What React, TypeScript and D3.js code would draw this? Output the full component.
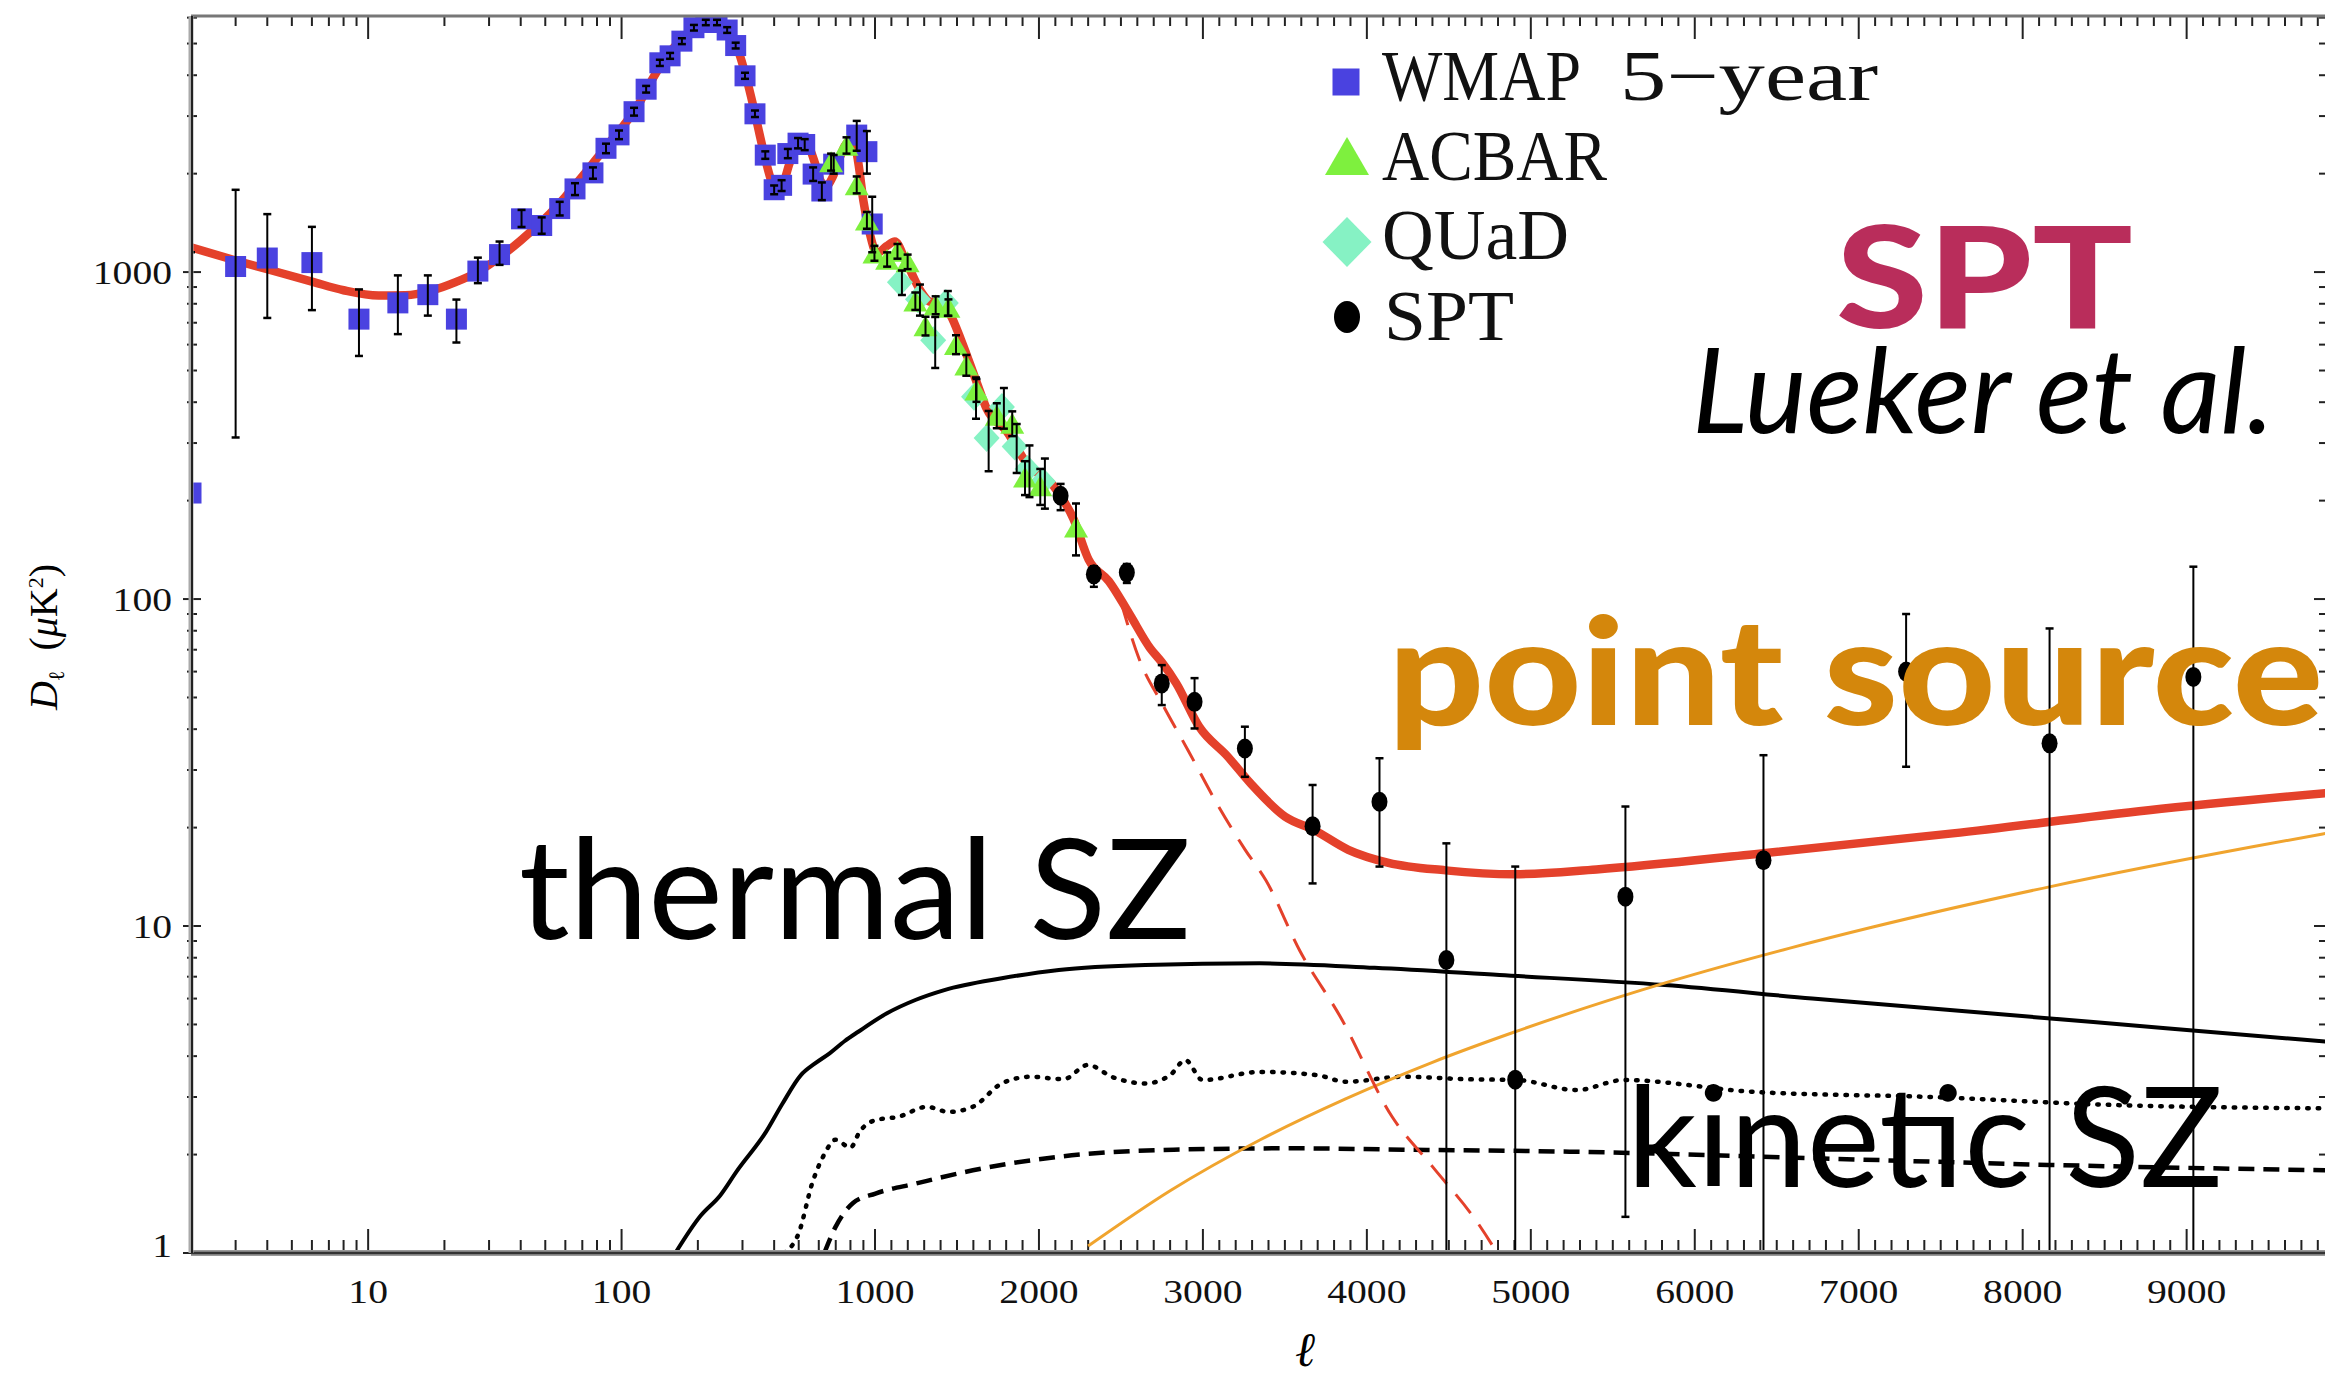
import React from "react";
import * as d3 from "d3";

const W = 2325;
const H = 1384;

// ---------------- data ----------------
// WMAP 5-year binned: [ell, D, low, high]
const wmapPoints: number[][] = [
  [2, 211, 0.5, 1150],
  [3, 1040, 312, 1785],
  [4, 1104, 724, 1504],
  [6, 1069, 765, 1375],
  [9.2, 718, 554, 885],
  [13.1, 805, 646, 977],
  [17.2, 853, 736, 977],
  [22.3, 718, 609, 824],
  [27.1, 1007, 925, 1107],
  [33, 1131, 1052, 1240],
  [40.3, 1455, 1374, 1549],
  [48.4, 1388, 1310, 1470],
  [57, 1564, 1490, 1640],
  [65.5, 1796, 1720, 1870],
  [77.1, 2011, 1930, 2090],
  [86.8, 2391, 2310, 2470],
  [97.7, 2628, 2550, 2710],
  [112, 3094, 3010, 3180],
  [125, 3625, 3540, 3710],
  [141.6, 4366, 4270, 4460],
  [155.4, 4585, 4490, 4680],
  [173, 5085, 4980, 5190],
  [193, 5590, 5480, 5700],
  [215, 5800, 5690, 5910],
  [238, 5800, 5690, 5910],
  [261, 5500, 5390, 5610],
  [282, 4930, 4830, 5030],
  [307, 3983, 3900, 4070],
  [336, 3048, 2980, 3120],
  [369, 2279, 2220, 2340],
  [400, 1786, 1730, 1840],
  [428, 1842, 1770, 1910],
  [453, 2304, 2230, 2380],
  [497, 2479, 2390, 2570],
  [528, 2456, 2360, 2550],
  [570, 1994, 1900, 2090],
  [617, 1770, 1660, 1880],
  [687, 2138, 2000, 2280],
  [847, 2624, 2350, 2900],
  [929, 2335, 2000, 2700],
  [975, 1403, 1150, 1700],
];

// ACBAR: [ell, D, err]
const acbarPoints: number[][] = [
  [671, 2173, 130],
  [772, 2443, 140],
  [847, 1851, 110],
  [929, 1442, 85],
  [995, 1143, 60],
  [1074, 1094, 55],
  [1137, 1159, 60],
  [1199, 1076, 55],
  [1246, 816, 50],
  [1308, 685, 45],
  [1370, 793, 50],
  [1448, 780, 45],
  [1494, 601, 40],
  [1557, 520, 38],
  [1619, 436, 35],
  [1743, 365, 32],
  [1837, 345, 30],
  [1915, 236, 28],
  [2008, 222, 28],
  [2226, 166, 30],
];

// QUaD: [ell, D, err]
const quadPoints: number[][] = [
  [1152, 931, 80],
  [1262, 826, 90],
  [1355, 619, 110],
  [1432, 805, 70],
  [1604, 416, 60],
  [1681, 311, 65],
  [1774, 387, 55],
  [1852, 293, 50],
  [1930, 250, 45],
  [2024, 229, 40],
];

// SPT: [ell, D, low, high]
const sptPoints: number[][] = [
  [2132, 207, 187, 225],
  [2335, 119, 109, 126],
  [2536, 120.5, 112, 128],
  [2749, 55.2, 47.4, 62.8],
  [2949, 48.5, 40.2, 57.3],
  [3256, 34.9, 28.6, 40.7],
  [3669, 20.2, 13.5, 27],
  [4077, 24, 15.2, 32.6],
  [4485, 7.87, 0.3, 17.9],
  [4905, 3.39, 0.3, 15.2],
  [5577, 12.3, 1.29, 23.2],
  [6419, 15.9, 0.3, 33.3],
  [7289, 60, 30.7, 90],
  [8164, 36.2, 0.3, 81.3],
  [9041, 57.8, 0.3, 125.6],
];

// best-fit total model (red solid)
const totalModel: number[][] = [
  [2, 1190], [3, 1085], [4, 1020], [6, 935], [8, 880], [11, 848], [14, 850],
  [18, 880], [22, 930], [27, 1000], [32, 1090], [40, 1250], [50, 1460],
  [60, 1700], [70, 1960], [80, 2230], [90, 2500], [100, 2760], [115, 3200],
  [130, 3800], [150, 4550], [170, 5100], [190, 5500], [210, 5720], [230, 5760],
  [250, 5600], [270, 5250], [290, 4700], [310, 3950], [330, 3250], [350, 2650],
  [370, 2200], [390, 1900], [410, 1780], [430, 1830], [460, 2150], [490, 2420],
  [520, 2480], [550, 2400], [580, 2150], [610, 1900], [640, 1830], [680, 1950],
  [720, 2200], [760, 2430], [800, 2540], [830, 2480], [860, 2150], [900, 1650],
  [950, 1330], [1012, 1143], [1070, 1200], [1121, 1240], [1183, 1096],
  [1277, 878], [1340, 810], [1401, 805], [1460, 740], [1525, 620], [1619, 462],
  [1681, 382], [1805, 325], [1930, 258], [2085, 223], [2210, 176], [2303, 132],
  [2426, 113.5], [2552, 90], [2676, 71], [2750, 64], [2837, 55.3], [2977, 40.7],
  [3151, 33], [3291, 27.3], [3502, 21.6], [3675, 19.7], [3887, 17.1],
  [4132, 15.6], [4480, 14.8], [4900, 14.4], [5400, 14.9], [6418, 16.7],
  [7573, 19.2], [8767, 22.6], [9850, 25.5],
];

// primary (lensed) CMB only (red dashed)
const primaryModel: number[][] = [
  [2500, 98], [2609, 66], [2760, 47], [2909, 34.5], [3100, 23], [3258, 17.1],
  [3384, 13.8], [3591, 8.4], [3838, 5.28], [4154, 2.61], [4399, 1.84],
  [4679, 1.23], [4850, 0.9],
];

// Poisson point sources (orange)
const pointSourceModel: number[][] = [
  [2300, 1.05], [2800, 1.55], [3350, 2.22], [3870, 2.96], [4400, 3.83],
  [4900, 4.74], [5850, 6.77], [6580, 8.56], [7080, 9.91], [8170, 13.2],
  [9410, 17.5], [9850, 19.2],
];

// thermal SZ template (black solid)
const tszModel: number[][] = [
  [163, 1.0], [205, 1.3], [245, 1.5], [285, 1.78], [372, 2.35], [430, 2.85],
  [510, 3.5], [580, 3.8], [662, 4.08], [760, 4.45], [859, 4.75], [1073, 5.41],
  [1250, 5.95], [1423, 6.37], [1773, 6.92], [2121, 7.34], [2648, 7.6],
  [3346, 7.69], [4047, 7.45], [4809, 7.08], [5817, 6.6], [6716, 6.0],
  [7795, 5.41], [8874, 4.87], [9850, 4.43],
];

// kinetic SZ model A (dotted)
const kszDotted: number[][] = [
  [437, 1.0], [500, 1.15], [566, 1.64], [630, 2.0], [698, 2.22], [800, 2.1],
  [870, 2.35], [1003, 2.55], [1143, 2.61], [1317, 2.8], [1450, 2.7],
  [1597, 2.8], [1773, 3.3], [1948, 3.46], [2150, 3.4], [2298, 3.76],
  [2450, 3.45], [2648, 3.3], [2800, 3.5], [2893, 3.89], [2998, 3.38],
  [3346, 3.58], [3697, 3.5], [3870, 3.34], [4222, 3.46], [4600, 3.4],
  [4918, 3.38], [5278, 3.15], [5565, 3.38], [6357, 3.11], [7435, 3.0],
  [8513, 2.84], [9850, 2.77],
];

// kinetic SZ model B (dashed)
const kszDashed: number[][] = [
  [631, 1.0], [698, 1.2], [817, 1.42], [1003, 1.52], [1248, 1.63],
  [1597, 1.79], [2121, 1.97], [2822, 2.07], [3523, 2.09], [4222, 2.07],
  [5278, 2.04], [6716, 1.95], [8155, 1.86], [9850, 1.79],
];

const xMajorTicks = [10, 100, 1000, 2000, 3000, 4000, 5000, 6000, 7000, 8000, 9000];
const xTickLabels = ["10", "100", "1000", "2000", "3000", "4000", "5000", "6000", "7000", "8000", "9000"];
const yMajorTicks = [1, 10, 100, 1000];
const yTickLabels = ["1", "10", "100", "1000"];

const legendLabels = ["ACBAR", "QUaD", "SPT"];

// ---------------- scales ----------------
const L = 191, R = 2326, T = 16, B = 1253;
const xLog = d3.scaleLog().domain([2, 1000]).range([L, 875]);
const xLin = d3.scaleLinear().domain([1000, 9850]).range([875, R]);
const xs = (l: number) => (l <= 1000 ? xLog(l) : xLin(l));
const ys = d3.scaleLog().domain([1, 6070]).range([B, T]);

const xMinor: number[] = [];
[1, 10, 100].forEach((dec) => {
  for (let k = 2; k <= 9; k++) {
    const v = k * dec;
    if (v > 2 && !xMajorTicks.includes(v)) xMinor.push(v);
  }
});
for (let v = 1100; v < 9850; v += 100) if (v % 1000 !== 0) xMinor.push(v);

const yMinor: number[] = [];
[1, 10, 100, 1000].forEach((dec) => {
  for (let k = 2; k <= 9; k++) {
    const v = k * dec;
    if (v < 6070) yMinor.push(v);
  }
});

const RED = "#e4412b";
const BLUE = "#4a42e0";
const GREEN = "#7ef03e";
const AQUA = "#86f2c4";
const ORANGE = "#f0a42e";

const line = d3
  .line<number[]>()
  .x((d) => xs(d[0]))
  .y((d) => ys(d[1]))
  .curve(d3.curveMonotoneX);

function ErrBar({ x, y1, y2, cap = 8 }: { x: number; y1: number; y2: number; cap?: number }) {
  return (
    <g stroke="#000" strokeWidth={2}>
      <line x1={x} x2={x} y1={y1} y2={y2} />
      <line x1={x - cap / 2} x2={x + cap / 2} y1={y1} y2={y1} strokeWidth={2.5} />
      <line x1={x - cap / 2} x2={x + cap / 2} y1={y2} y2={y2} strokeWidth={2.5} />
    </g>
  );
}

const triPath = (cx: number, cy: number, w: number, h: number) =>
  `M${cx},${cy - h / 2}L${cx + w / 2},${cy + h / 2}L${cx - w / 2},${cy + h / 2}Z`;
const diaPath = (cx: number, cy: number, w: number, h: number) =>
  `M${cx},${cy - h / 2}L${cx + w / 2},${cy}L${cx},${cy + h / 2}L${cx - w / 2},${cy}Z`;

export default function App() {
  const serif = "Liberation Serif, DejaVu Serif, serif";
  const sans = "Lato, Open Sans, DejaVu Sans, sans-serif";
  return (
    <svg
      width={W}
      height={H}
      viewBox={`0 0 ${W} ${H}`}
      style={{ position: "absolute", left: 0, top: 0, background: "#fff", display: "block" }}
    >
      <defs>
        <clipPath id="plotArea">
          <rect x={L} y={T} width={R - L} height={B - T} />
        </clipPath>
      </defs>
      <rect x={0} y={0} width={W} height={H} fill="#fff" />

      {/* ticks */}
      <g stroke="#222" strokeWidth={2}>
        {xMajorTicks.map((v) => (
          <g key={"xm" + v}>
            <line x1={xs(v)} x2={xs(v)} y1={B} y2={B - 24} />
            <line x1={xs(v)} x2={xs(v)} y1={T} y2={T + 23} />
          </g>
        ))}
        {xMinor.map((v) => (
          <g key={"xn" + v}>
            <line x1={xs(v)} x2={xs(v)} y1={B} y2={B - 13} />
            <line x1={xs(v)} x2={xs(v)} y1={T} y2={T + 10} />
          </g>
        ))}
        {yMajorTicks.map((v) => (
          <g key={"ym" + v}>
            <line x1={L - 8} x2={L + 10} y1={ys(v)} y2={ys(v)} />
            <line x1={R - 12} x2={R} y1={ys(v)} y2={ys(v)} />
          </g>
        ))}
        {yMinor.map((v) => (
          <g key={"yn" + v}>
            <line x1={L - 4} x2={L + 6} y1={ys(v)} y2={ys(v)} />
            <line x1={R - 7} x2={R} y1={ys(v)} y2={ys(v)} />
          </g>
        ))}
      </g>

      {/* tick labels */}
      <g fontFamily={serif} fontSize={34} fill="#111">
        {xMajorTicks.map((v, i) => (
          <text
            key={"xl" + v}
            x={xs(v)}
            y={1303}
            textAnchor="middle"
            textLength={xTickLabels[i].length * 19.8}
            lengthAdjust="spacingAndGlyphs"
          >
            {xTickLabels[i]}
          </text>
        ))}
        {yMajorTicks.map((v, i) => (
          <text
            key={"yl" + v}
            x={172}
            y={v === 1 ? ys(v) + 4 : ys(v) + 12}
            textAnchor="end"
            textLength={yTickLabels[i].length * 19.8}
            lengthAdjust="spacingAndGlyphs"
          >
            {yTickLabels[i]}
          </text>
        ))}
      </g>

      {/* axis titles */}
      <text x={1305} y={1366} textAnchor="middle" fontFamily="DejaVu Serif, serif" fontStyle="italic" fontSize={48}>
        ℓ
      </text>
      <text transform="translate(57,637) rotate(-90)" textAnchor="middle" fontFamily={serif} fontSize={40}>
        <tspan fontStyle="italic">D</tspan>
        <tspan fontSize={22} dy={7}>ℓ</tspan>
        <tspan dy={-7}>{"\u00a0\u00a0("}</tspan>
        <tspan fontStyle="italic">μ</tspan>
        <tspan>K</tspan>
        <tspan fontSize={22} dy={-14}>2</tspan>
        <tspan dy={14}>)</tspan>
      </text>

      {/* model curves */}
      <g clipPath="url(#plotArea)" fill="none">
        <path d={line(tszModel) || ""} stroke="#000" strokeWidth={4} />
        <path d={line(kszDotted) || ""} stroke="#000" strokeWidth={4.5} strokeDasharray="1.5 9" strokeLinecap="round" />
        <path d={line(kszDashed) || ""} stroke="#000" strokeWidth={4.5} strokeDasharray="16 9" />
        <path d={line(pointSourceModel) || ""} stroke={ORANGE} strokeWidth={3} />
        <path d={line(primaryModel) || ""} stroke={RED} strokeWidth={3} strokeDasharray="24 14" />
        <path d={line(totalModel) || ""} stroke={RED} strokeWidth={8.5} strokeLinejoin="round" />
      </g>

      {/* annotations under the data */}
      <g fontFamily={sans}>
        <text x={519} y={939} fontSize={140} textLength={672} lengthAdjust="spacingAndGlyphs" fill="#000">
          thermal SZ
        </text>
        <text x={1627} y={1187} fontSize={140} textLength={596} lengthAdjust="spacingAndGlyphs" fill="#000">
          kinetic SZ
        </text>
        <text x={1836} y={328} fontSize={142} fontWeight={900} textLength={297} lengthAdjust="spacingAndGlyphs" fill="#b92d5b">
          SPT
        </text>
        <text
          x={1692}
          y={433}
          fontSize={119}
          fontStyle="italic"
          textLength={582}
          lengthAdjust="spacingAndGlyphs"
          fill="#000"
        >
          Lueker et al.
        </text>
      </g>

      {/* data */}
      <g clipPath="url(#plotArea)">
        {wmapPoints.map((d, i) => (
          <rect key={"w" + i} x={xs(d[0]) - 10.5} y={ys(d[1]) - 10.5} width={21} height={21} fill={BLUE} />
        ))}
        {quadPoints.map((d, i) => (
          <path key={"q" + i} d={diaPath(xs(d[0]), ys(d[1]), 26, 28)} fill={AQUA} />
        ))}
        {acbarPoints.map((d, i) => (
          <path key={"a" + i} d={triPath(xs(d[0]), ys(d[1]), 24, 21)} fill={GREEN} />
        ))}
        {wmapPoints.map((d, i) => (
          <ErrBar key={"we" + i} x={xs(d[0])} y1={ys(d[3])} y2={ys(d[2])} />
        ))}
        {quadPoints.map((d, i) => (
          <ErrBar key={"qe" + i} x={xs(d[0]) + 2} y1={ys(d[1] + d[2])} y2={ys(d[1] - d[2])} />
        ))}
        {acbarPoints.map((d, i) => (
          <ErrBar key={"ae" + i} x={xs(d[0])} y1={ys(d[1] + d[2])} y2={ys(d[1] - d[2])} />
        ))}
        {sptPoints.map((d, i) => (
          <g key={"s" + i}>
            <ErrBar x={xs(d[0])} y1={ys(d[3])} y2={ys(d[2])} />
            <ellipse cx={xs(d[0])} cy={ys(d[1])} rx={8} ry={10} fill="#000" />
          </g>
        ))}
      </g>

      {/* overlay label on top of the data */}
      <text
        x={1388}
        y={725}
        fontFamily={sans}
        fontSize={148}
        fontWeight={900}
        textLength={935}
        lengthAdjust="spacingAndGlyphs"
        fill="#d4870c"
      >
        point source
      </text>

      {/* frame */}
      <g fill="none">
        <line x1={L} x2={R} y1={B} y2={B} stroke="#9a9a9a" strokeWidth={6} />
        <line x1={L} x2={R} y1={B} y2={B} stroke="#333" strokeWidth={2.5} />
        <line x1={L} x2={R} y1={T} y2={T} stroke="#777" strokeWidth={3} />
        <line x1={L} x2={L} y1={T} y2={B} stroke="#aaa" strokeWidth={5} />
        <line x1={L + 1} x2={L + 1} y1={T} y2={B} stroke="#222" strokeWidth={2} />
        <line x1={R} x2={R} y1={T} y2={B} stroke="#222" strokeWidth={2} />
      </g>

      {/* legend */}
      <g fontFamily={serif} fontSize={71} fill="#111">
        <rect x={1346 - 13.5} y={82 - 13.5} width={27} height={27} fill={BLUE} />
        <path d={triPath(1347, 156, 44, 38)} fill={GREEN} />
        <path d={diaPath(1347, 242, 49, 50)} fill={AQUA} />
        <ellipse cx={1347} cy={317} rx={13} ry={16} fill="#000" />
        <text x={1382} y={100} textLength={199} lengthAdjust="spacingAndGlyphs">
          WMAP
        </text>
        <text x={1620} y={100} textLength={258} lengthAdjust="spacingAndGlyphs">
          5−year
        </text>
        <text x={1382} y={180} textLength={225} lengthAdjust="spacingAndGlyphs">
          {legendLabels[0]}
        </text>
        <text x={1382} y={259} textLength={187} lengthAdjust="spacingAndGlyphs">
          {legendLabels[1]}
        </text>
        <text x={1384} y={340} textLength={130} lengthAdjust="spacingAndGlyphs">
          {legendLabels[2]}
        </text>
      </g>
    </svg>
  );
}
